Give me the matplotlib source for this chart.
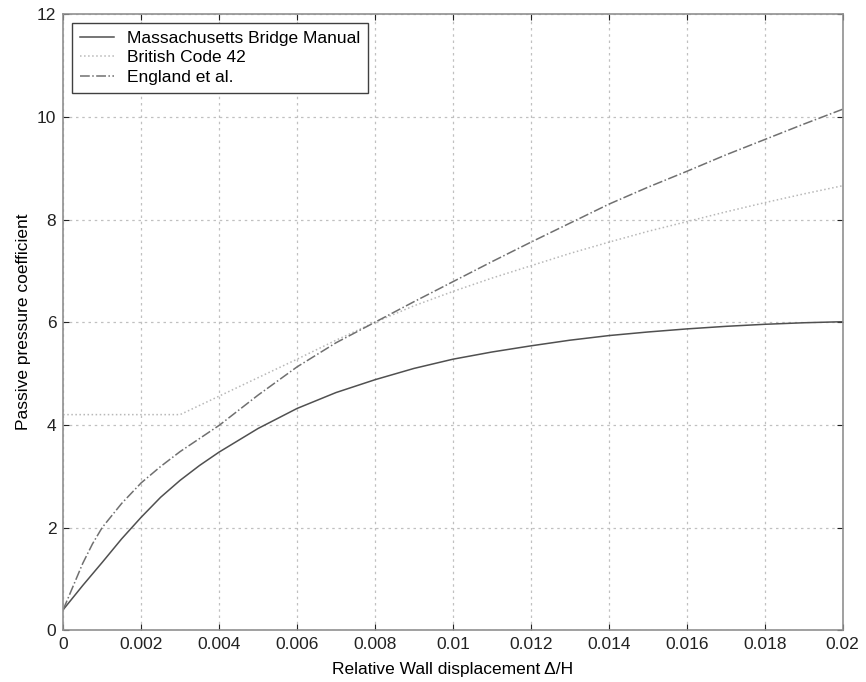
import matplotlib
matplotlib.use("Agg")
import matplotlib.pyplot as plt

plt.rcParams['font.family'] = ['Liberation Sans', 'DejaVu Sans']

# relative wall displacement (delta/H)
x_mass = [0, 0.0005, 0.001, 0.0015, 0.002, 0.0025, 0.003, 0.0035, 0.004, 0.005, 0.006, 0.007,
          0.008, 0.009, 0.010, 0.011, 0.012, 0.013, 0.014, 0.015, 0.016, 0.017, 0.018, 0.019, 0.020]
y_mass = [0.4, 0.87, 1.32, 1.78, 2.2, 2.59, 2.92, 3.21, 3.47, 3.93, 4.32, 4.63,
          4.88, 5.1, 5.28, 5.42, 5.54, 5.65, 5.74, 5.81, 5.87, 5.92, 5.96, 5.99, 6.01]

x_brit = [0, 0.003, 0.004, 0.005, 0.006, 0.007, 0.008, 0.009, 0.010,
          0.011, 0.012, 0.013, 0.014, 0.015, 0.016, 0.017, 0.018, 0.019, 0.020]
y_brit = [4.2, 4.2, 4.56, 4.92, 5.28, 5.65, 6.0, 6.32, 6.6,
          6.86, 7.1, 7.34, 7.56, 7.77, 7.96, 8.15, 8.33, 8.5, 8.66]

x_eng = [0, 0.00025, 0.0005, 0.00075, 0.001, 0.0015, 0.002, 0.0025, 0.003, 0.004, 0.005, 0.006, 0.007,
         0.008, 0.009, 0.010, 0.011, 0.012, 0.013, 0.014, 0.015, 0.016, 0.017, 0.018, 0.019, 0.020]
y_eng = [0.4, 0.85, 1.3, 1.68, 2.0, 2.47, 2.87, 3.19, 3.48, 3.99, 4.58, 5.13, 5.6,
         6.0, 6.4, 6.79, 7.18, 7.56, 7.93, 8.3, 8.63, 8.94, 9.26, 9.56, 9.86, 10.15]

xticks = [0, 0.002, 0.004, 0.006, 0.008, 0.01, 0.012, 0.014, 0.016, 0.018, 0.02]
xticklabels = ['0', '0.002', '0.004', '0.006', '0.008', '0.01', '0.012', '0.014', '0.016', '0.018', '0.02']
yticks = [0, 2, 4, 6, 8, 10, 12]

fig = plt.figure(figsize=(8.66, 6.82), dpi=100)
ax = fig.add_axes([0.073, 0.076, 0.9, 0.903])

ax.plot(x_mass, y_mass, color='#505050', lw=1.1, ls='-', label='Massachusetts Bridge Manual')
ax.plot(x_brit, y_brit, color='#b8b8b8', lw=1.1, ls=':', label='British Code 42')
ax.plot(x_eng, y_eng, color='#707070', lw=1.1, ls='-.', label='England et al.')

ax.set_xlim(0, 0.02)
ax.set_ylim(0, 12)
ax.set_xticks(xticks)
ax.set_xticklabels(xticklabels)
ax.set_yticks(yticks)
ax.grid(True, color='#c0c0c0', ls=(0, (2, 3)), lw=0.9)
ax.tick_params(direction='in', top=True, right=True, length=4, labelsize=12.5,
               colors='#222222', pad=5)
for s in ax.spines.values():
    s.set_color('#909090')
    s.set_linewidth(1.2)

ax.set_xlabel('Relative Wall displacement \u0394/H', fontsize=12.5, labelpad=7)
ax.set_ylabel('Passive pressure coefficient', fontsize=12.5, labelpad=4)

leg = ax.legend(loc='upper left', fontsize=12.5, fancybox=False, framealpha=1,
                edgecolor='#404040', borderaxespad=0.5, handlelength=2.0,
                handletextpad=0.7, labelspacing=0.25, borderpad=0.45)
leg.get_frame().set_linewidth(1.0)

fig.savefig('out.png', dpi=100)
